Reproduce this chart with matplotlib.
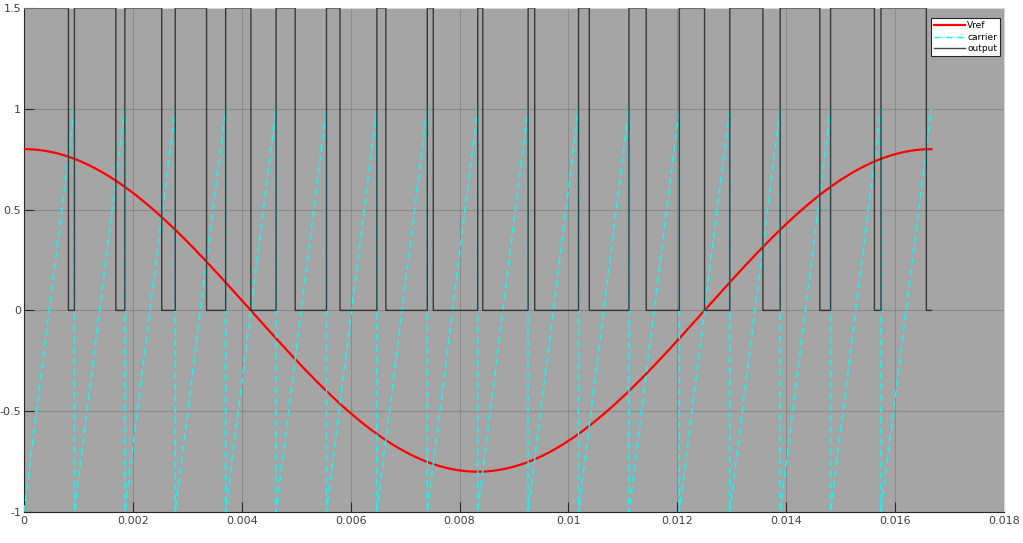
import numpy as np
import matplotlib
matplotlib.use("Agg")
import matplotlib.pyplot as plt

# Parameters
vref_amplitude = 0.8          # peak of reference cosine
fundamental_hz = 60.0         # one full period spans 0 .. 0.01667 s
carrier_cycles = 18           # sawtooth resets per fundamental period
carrier_low, carrier_high = -1.0, 1.0
output_high, output_low = 1.5, 0.0

x_ticks = [0, 0.002, 0.004, 0.006, 0.008, 0.01, 0.012, 0.014, 0.016, 0.018]
x_tick_labels = ["0", "0.002", "0.004", "0.006", "0.008", "0.01", "0.012", "0.014", "0.016", "0.018"]
y_ticks = [-1, -0.5, 0, 0.5, 1, 1.5]
y_tick_labels = ["-1", "-0.5", "0", "0.5", "1", "1.5"]

T = 1.0 / fundamental_hz
t = np.linspace(0, T, 40001)
vref = vref_amplitude * np.cos(2 * np.pi * fundamental_hz * t)

# carrier: sawtooth with explicit vertical resets
Tc = T / carrier_cycles
ct, cv = [], []
for k in range(carrier_cycles):
    ct += [k * Tc, (k + 1) * Tc]
    cv += [carrier_low, carrier_high]
carrier_t = np.array(ct)
carrier_v = np.array(cv)
phase = (t % Tc) / Tc
carrier_on_t = carrier_low + (carrier_high - carrier_low) * phase
carrier_on_t[-1] = carrier_high
output = np.where(vref > carrier_on_t, output_high, output_low)

fig = plt.figure(figsize=(10.23, 5.43), dpi=100)
fig.patch.set_facecolor("white")
ax = fig.add_axes([24 / 1023, 1 - 512 / 543, 980 / 1023, 504 / 543])
ax.set_facecolor("#a5a5a5")

ax.plot(t, vref, color="#ff0000", lw=1.6, label="Vref", zorder=3)
ax.plot(carrier_t, carrier_v, color="#00ffff", lw=1.0, ls=(0, (5, 3)), label="carrier", zorder=3)
ax.step(t, output, where="post", color="#262626", lw=1.0, alpha=0.85, label="output", zorder=4)

ax.set_xlim(0, 0.018)
ax.set_ylim(-1, 1.5)
ax.set_xticks(x_ticks)
ax.set_xticklabels(x_tick_labels)
ax.set_yticks(y_ticks)
ax.set_yticklabels(y_tick_labels)
ax.grid(True, color="#808080", lw=0.8, alpha=0.7)
ax.set_axisbelow(True)
ax.tick_params(direction="in", length=7, width=0.8, color="#262626",
               labelsize=8, labelcolor="#404040")
ax.tick_params(axis="y", pad=2)
ax.tick_params(axis="x", pad=3)
for s in ["left", "bottom"]:
    ax.spines[s].set_color("#262626")
    ax.spines[s].set_linewidth(0.8)
for s in ["top", "right"]:
    ax.spines[s].set_color("#d8d8d8")
    ax.spines[s].set_linewidth(0.8)

leg = ax.legend(loc="upper right", bbox_to_anchor=(0.9985, 0.985), fontsize=6.5,
                frameon=True, fancybox=False, handlelength=3.5, handletextpad=0.2,
                borderpad=0.3, labelspacing=0.3, borderaxespad=0.3)
leg.get_frame().set_facecolor("white")
leg.get_frame().set_edgecolor("#262626")
leg.get_frame().set_linewidth(0.8)
leg.get_frame().set_alpha(1)

fig.savefig("out.png", dpi=100, facecolor="white")
